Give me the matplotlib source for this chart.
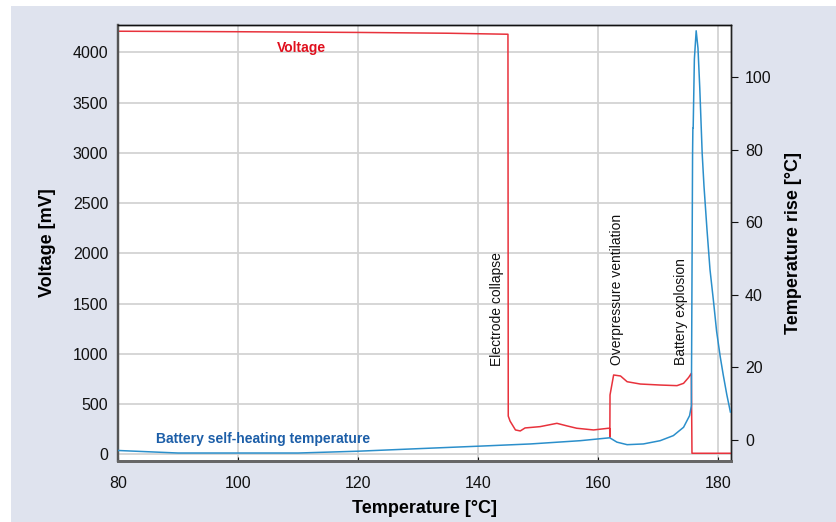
import matplotlib
matplotlib.use("Agg")
import matplotlib.pyplot as plt
from matplotlib.patches import Rectangle

# ---- data ----
volt_temp = [80, 100, 120, 135, 144.95, 145.0, 145.3, 146.2, 147.0, 147.8, 150.3,
             153.1, 154.8, 156.4, 159.2, 161.7, 161.9, 161.92, 161.95, 162.55,
             163.7, 164.8, 167.0, 170.3, 173.1, 174.2, 175.05, 175.5, 175.6, 182]
voltage_mv = [4210, 4205, 4198, 4190, 4180, 380, 330, 242, 232, 262, 275,
              308, 282, 259, 242, 259, 255, 169, 590, 789,
              779, 722, 699, 689, 683, 706, 765, 806, 10, 10]

rise_temp = [80, 90, 110, 120, 130, 140.3, 148.7, 157, 161.9, 163.1, 164.8,
             167.5, 170.3, 172.5, 174.2, 175.2, 175.5, 175.7, 175.75, 175.8,
             176.0, 176.3, 176.6, 176.9, 177.1, 177.3, 177.6, 178.1, 178.6,
             179.2, 179.7, 180.3, 180.8, 181.4, 182]
temp_rise = [-2.9, -3.6, -3.6, -3.1, -2.4, -1.7, -1.1, -0.2, 0.6, -0.6, -1.3,
             -1.1, -0.2, 1.2, 3.5, 6.7, 9.4, 79, 86, 86,
             105, 112.8, 108, 97, 88, 79, 70, 58, 47,
             38, 30, 23, 18, 12.5, 7.7]

x_ticks = [80, 100, 120, 140, 160, 180]
v_ticks = [0, 500, 1000, 1500, 2000, 2500, 3000, 3500, 4000]
t_ticks = [0, 20, 40, 60, 80, 100]

events = ["Electrode collapse", "Overpressure ventilation", "Battery explosion"]
event_x = [143.1, 163.1, 173.7]
event_y = [880, 890, 890]

plt.rcParams['font.family'] = ['Liberation Sans', 'DejaVu Sans']

fig = plt.figure(figsize=(8.37, 5.22), dpi=100, facecolor='white')
fig.patches.append(Rectangle((11 / 837, 0), 1, (522 - 6) / 522,
                             transform=fig.transFigure, facecolor='#dfe3ee',
                             edgecolor='none', zorder=-10))

ax = fig.add_axes([118 / 837, 1 - 461 / 522, (731 - 118) / 837, (461 - 25) / 522])
ax.set_facecolor('white')
ax2 = ax.twinx()

ax.plot(volt_temp, voltage_mv, color='#e8323c', lw=1.1, zorder=3)
ax2.plot(rise_temp, temp_rise, color='#2b8fcb', lw=1.1, zorder=3)

ax.set_xlim(80, 182.1)
ax.set_ylim(-67, 4272)
ax2.set_ylim(-5.8, 114.4)

ax.set_xticks(x_ticks)
ax.set_yticks(v_ticks)
ax2.set_yticks(t_ticks)

ax.grid(True, color='#d3d3d3', lw=1.3)
ax.set_axisbelow(True)

ax.tick_params(axis='y', length=0, pad=7, labelsize=11.5, colors='#111111')
ax.tick_params(axis='x', length=3, direction='in', pad=11, labelsize=11.5, colors='#111111')
ax2.tick_params(axis='y', length=5, width=0.8, pad=5, labelsize=11.5, colors='#111111')

for a in (ax, ax2):
    a.spines['top'].set_color('#111111')
    a.spines['top'].set_linewidth(1.0)
    a.spines['right'].set_color('#222222')
    a.spines['right'].set_linewidth(1.0)
    a.spines['left'].set_color('#555555')
    a.spines['left'].set_linewidth(1.6)
    a.spines['bottom'].set_color('#666666')
    a.spines['bottom'].set_linewidth(2.0)

ax.set_ylabel('Voltage [mV]', fontsize=13, fontweight='bold', labelpad=12)
ax.set_xlabel('Temperature [°C]', fontsize=13, fontweight='bold', labelpad=6)
ax2.set_ylabel('Temperature rise [°C]', fontsize=13, fontweight='bold', labelpad=10)

for name, xe, ye in zip(events, event_x, event_y):
    ax.text(xe, ye, name, rotation=90, ha='center', va='bottom', fontsize=10,
            color='#111111', zorder=5)

ax.text(110.6, 4040, 'Voltage', color='#e0101e', fontsize=10, fontweight='bold',
        ha='center', va='center', zorder=5)
ax.text(104.1, 149, 'Battery self-heating temperature', color='#1c5ea8', fontsize=10,
        fontweight='bold', ha='center', va='center', zorder=5)

fig.savefig('out.png', dpi=100, facecolor=fig.get_facecolor())
